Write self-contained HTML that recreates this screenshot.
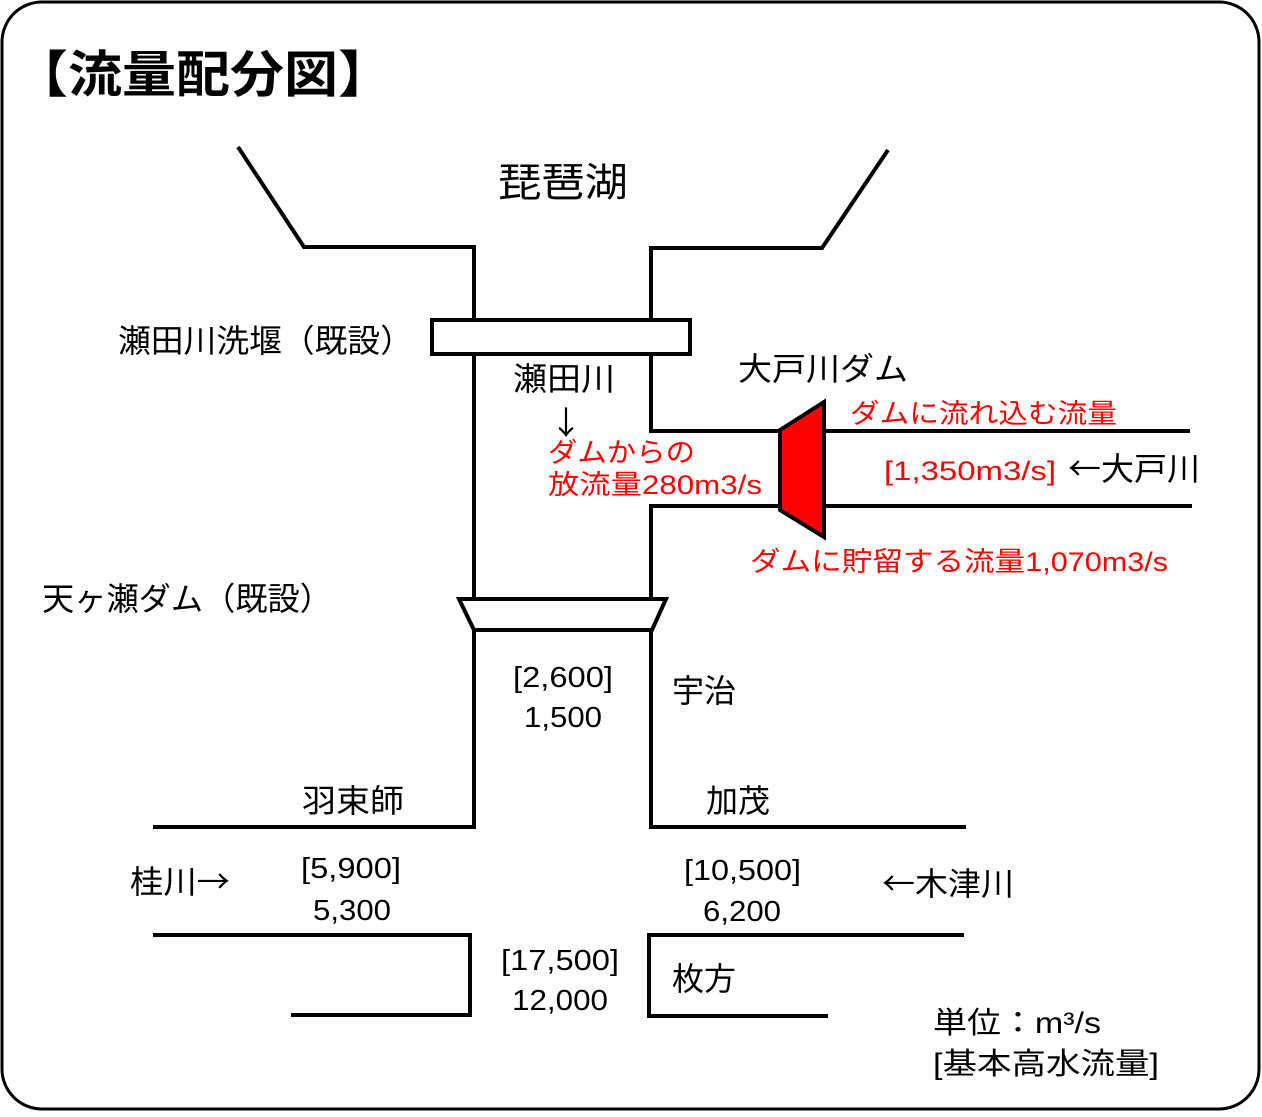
<!DOCTYPE html>
<html><head><meta charset="utf-8"><style>
body{margin:0;background:#fff;}
svg text{font-family:"Liberation Sans","Noto Sans CJK JP",sans-serif;}
.a{font-family:"Noto Sans CJK JP",sans-serif;}
</style></head><body>
<svg width="1262" height="1112" viewBox="0 0 1262 1112" xmlns="http://www.w3.org/2000/svg">
<rect x="2" y="2" width="1257" height="1107" rx="40" fill="#fff" stroke="#000" stroke-width="3"/>
<g fill="none" stroke="#000" stroke-width="4">
<polyline points="238,147 304,247 474,247 474,320"/>
<polyline points="888,150 822,248 651,248 651,320"/>
<rect x="432" y="320" width="258" height="34"/>
<line x1="474" y1="354" x2="474" y2="598"/>
<polyline points="651,354 651,431 780,431"/>
<polyline points="780,506 651,506 651,598"/>
<line x1="824" y1="431" x2="1190" y2="431"/>
<line x1="824" y1="506" x2="1192" y2="506"/>
<polygon points="459,599 666,599 652,630 474,630"/>
<polyline points="474,630 474,827 153,827"/>
<polyline points="651,630 651,827 966,827"/>
<polyline points="153,935 470,935 470,1015 291,1015"/>
<polyline points="964,935 649,935 649,1016 828,1016"/>
</g>
<polygon points="780,430 824,402 824,537 780,510" fill="#f00" stroke="#000" stroke-width="4"/>
<text x="14" y="92" font-size="50" font-weight="bold" textLength="378" lengthAdjust="spacingAndGlyphs">【流量配分図】</text>
<g font-size="32" fill="#000">
<text x="498" y="196" font-size="40" textLength="130" lengthAdjust="spacingAndGlyphs">琵琶湖</text>
<text x="118" y="352" textLength="295" lengthAdjust="spacingAndGlyphs">瀬田川洗堰（既設）</text>
<text x="513" y="390" textLength="102" lengthAdjust="spacingAndGlyphs">瀬田川</text>
<text x="550" y="434" class="a">↓</text>
<text x="738" y="380" textLength="170" lengthAdjust="spacingAndGlyphs">大戸川ダム</text>
<text x="1068" y="480" class="a" textLength="132" lengthAdjust="spacingAndGlyphs">←大戸川</text>
<text x="42" y="610" textLength="290" lengthAdjust="spacingAndGlyphs">天ヶ瀬ダム（既設）</text>
<text x="513" y="687" font-size="29" textLength="100" lengthAdjust="spacingAndGlyphs">[2,600]</text>
<text x="524" y="727" font-size="29" textLength="78" lengthAdjust="spacingAndGlyphs">1,500</text>
<text x="672" y="702">宇治</text>
<text x="302" y="812" textLength="102" lengthAdjust="spacingAndGlyphs">羽束師</text>
<text x="706" y="812">加茂</text>
<text x="130" y="893" class="a" textLength="100" lengthAdjust="spacingAndGlyphs">桂川→</text>
<text x="301" y="878" font-size="29" textLength="100" lengthAdjust="spacingAndGlyphs">[5,900]</text>
<text x="313" y="920" font-size="29" textLength="78" lengthAdjust="spacingAndGlyphs">5,300</text>
<text x="684" y="880" font-size="29" textLength="117" lengthAdjust="spacingAndGlyphs">[10,500]</text>
<text x="703" y="921" font-size="29" textLength="78" lengthAdjust="spacingAndGlyphs">6,200</text>
<text x="882" y="895" class="a" textLength="132" lengthAdjust="spacingAndGlyphs">←木津川</text>
<text x="501" y="970" font-size="29" textLength="118" lengthAdjust="spacingAndGlyphs">[17,500]</text>
<text x="512" y="1010" font-size="29" textLength="96" lengthAdjust="spacingAndGlyphs">12,000</text>
<text x="672" y="990">枚方</text>
<text x="933" y="1033" font-size="30" textLength="168" lengthAdjust="spacingAndGlyphs">単位：m³/s</text>
<text x="933" y="1074" font-size="30" textLength="226" lengthAdjust="spacingAndGlyphs">[基本高水流量]</text>
</g>
<g font-size="27" fill="#f00">
<text x="850" y="423" textLength="267" lengthAdjust="spacingAndGlyphs">ダムに流れ込む流量</text>
<text x="548" y="462" textLength="147" lengthAdjust="spacingAndGlyphs">ダムからの</text>
<text x="548" y="494" textLength="214" lengthAdjust="spacingAndGlyphs">放流量280m3/s</text>
<text x="884" y="480" textLength="172" lengthAdjust="spacingAndGlyphs">[1,350m3/s]</text>
<text x="750" y="571" textLength="418" lengthAdjust="spacingAndGlyphs">ダムに貯留する流量1,070m3/s</text>
</g>
</svg>
</body></html>
